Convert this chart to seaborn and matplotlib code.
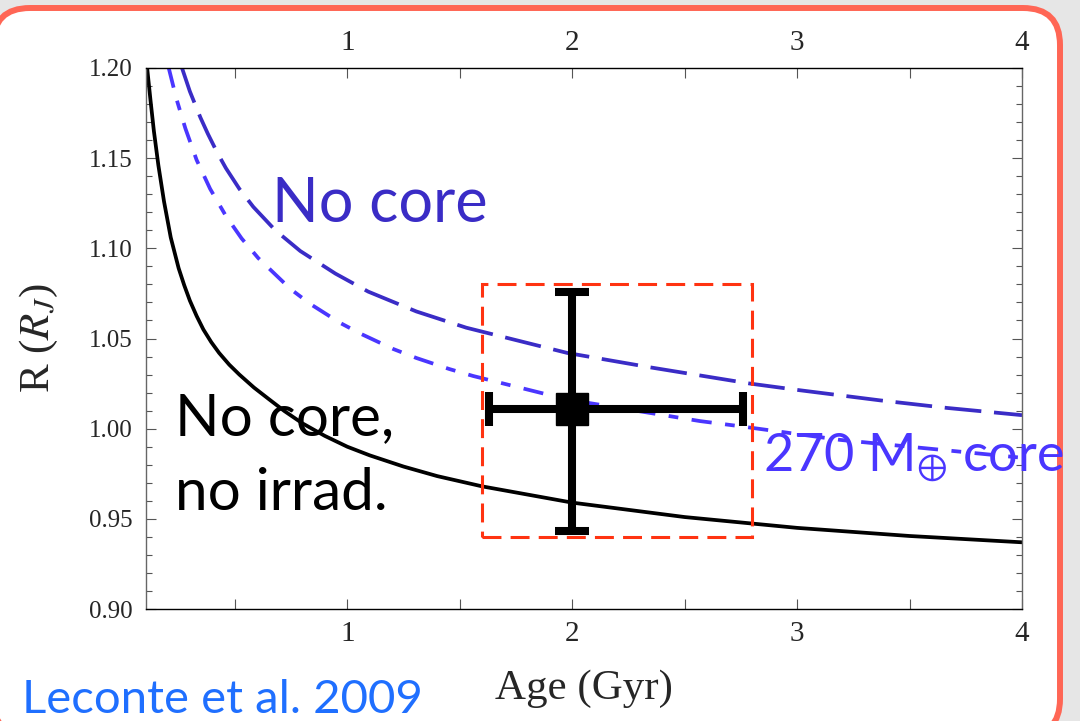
import matplotlib
matplotlib.use("Agg")
import matplotlib.pyplot as plt
import seaborn as sns
from matplotlib.patches import Rectangle, FancyBboxPatch
from matplotlib.ticker import FixedLocator, FixedFormatter, MultipleLocator

# ---------------- data ----------------
# Evolution tracks: age (Gyr) vs. radius (R_J)
age_noirr = [0.110, 0.125, 0.140, 0.160, 0.185, 0.215, 0.250, 0.275, 0.300,
             0.330, 0.360, 0.395, 0.430, 0.475, 0.520, 0.585, 0.650, 0.720,
             0.800, 0.900, 1.000, 1.100, 1.250, 1.400, 1.600, 2.000, 2.500,
             3.000, 3.500, 4.000]
radius_noirr = [1.200, 1.182, 1.165, 1.146, 1.126, 1.106, 1.089, 1.0795, 1.071,
                1.0625, 1.055, 1.048, 1.042, 1.0355, 1.030, 1.0228, 1.0165,
                1.0098, 1.003, 0.996, 0.990, 0.9852, 0.979, 0.9737, 0.968,
                0.959, 0.951, 0.945, 0.9405, 0.937]

age_nocore = [0.265, 0.300, 0.347, 0.380, 0.422, 0.460, 0.520, 0.582, 0.680,
              0.791, 0.947, 1.093, 1.307, 1.529, 1.978, 2.347, 2.791, 3.013,
              3.369, 3.667, 4.000]
radius_nocore = [1.200, 1.187, 1.1725, 1.1635, 1.153, 1.1445, 1.133, 1.123, 1.110,
                 1.0985, 1.086, 1.076, 1.065, 1.056, 1.042, 1.034, 1.025, 1.0213,
                 1.0157, 1.0115, 1.0075]

age_core = [0.206, 0.240, 0.280, 0.330, 0.390, 0.460, 0.530, 0.604, 0.747,
            0.836, 0.969, 1.062, 1.204, 1.307, 1.453, 1.560, 1.978, 2.569,
            2.756, 3.190, 3.990]
radius_core = [1.200, 1.183, 1.1665, 1.149, 1.133, 1.118, 1.1055, 1.0946, 1.0775,
               1.0691, 1.0586, 1.0525, 1.0442, 1.0392, 1.0331, 1.0292, 1.0162,
               1.0042, 1.0012, 0.9938, 0.984]

# Measured planet: age and radius with asymmetric uncertainties
obs_age = [2.0]
obs_age_err_low = [0.37]
obs_age_err_high = [0.76]
obs_radius = [1.011]
obs_radius_err_low = [0.068]
obs_radius_err_high = [0.065]

# Allowed region
box_age = [1.6, 2.8]
box_radius = [0.94, 1.08]

x_ticks = [0.5, 1.0, 1.5, 2.0, 2.5, 3.0, 3.5, 4.0]
x_tick_labels = ["", "1", "", "2", "", "3", "", "4"]
y_ticks = [0.90, 0.95, 1.00, 1.05, 1.10, 1.15, 1.20]
y_tick_labels = ["0.90", "0.95", "1.00", "1.05", "1.10", "1.15", "1.20"]

# ---------------- style ----------------
sns.set_theme(style="ticks")
plt.rcParams.update({
    "font.family": ["Liberation Serif", "DejaVu Serif"],
    "mathtext.fontset": "stix",
    "axes.edgecolor": "black",
    "axes.linewidth": 1.0,
})

C_NOCORE = "#3a2cc6"
C_CORE = "#4a36ff"
C_BOX = "#ff3311"
C_CITE = "#1f6fff"
C_FRAME = "#ff6655"

fig = plt.figure(figsize=(10.8, 7.21), dpi=100, facecolor="#e6e6e6")

# rounded white panel with coral border
panel = FancyBboxPatch((-0.07, -0.15), 10.67, 7.28,
                       boxstyle="round,pad=0,rounding_size=0.37",
                       transform=fig.dpi_scale_trans, facecolor="white",
                       edgecolor=C_FRAME, linewidth=4.3, zorder=-10,
                       clip_on=False)
fig.add_artist(panel)

ax = fig.add_axes([0.1352, 0.1553, 0.8111, 0.7504])
ax.set_facecolor("white")

LW = 2.7
sns.lineplot(x=age_noirr, y=radius_noirr, ax=ax, color="black", lw=LW,
             estimator=None, sort=True)
sns.lineplot(x=age_nocore, y=radius_nocore, ax=ax, color=C_NOCORE, lw=LW,
             estimator=None, sort=True, linestyle=(0, (9.8, 3.4)))
sns.lineplot(x=age_core, y=radius_core, ax=ax, color=C_CORE, lw=LW,
             estimator=None, sort=True,
             linestyle=(0, (5.4, 3.6, 2.6, 3.6)))

rect = Rectangle((box_age[0], box_radius[0]), box_age[1] - box_age[0],
                 box_radius[1] - box_radius[0], fill=False, edgecolor=C_BOX,
                 linewidth=2.2, linestyle=(0, (6.2, 3.0)), zorder=3)
ax.add_patch(rect)

ax.errorbar(obs_age, obs_radius,
            xerr=[obs_age_err_low, obs_age_err_high],
            yerr=[obs_radius_err_low, obs_radius_err_high],
            fmt="s", color="black", ms=23.5, elinewidth=5.8,
            capsize=12.2, capthick=5.8, zorder=5)

ax.set_xlim(0.105, 4.0)
ax.set_ylim(0.90, 1.20)

ax.xaxis.set_major_locator(FixedLocator(x_ticks))
ax.xaxis.set_major_formatter(FixedFormatter(x_tick_labels))
ax.yaxis.set_major_locator(FixedLocator(y_ticks))
ax.yaxis.set_major_formatter(FixedFormatter(y_tick_labels))
ax.yaxis.set_minor_locator(MultipleLocator(0.01))

ax.tick_params(axis="both", which="both", direction="in", color="#555555",
               width=0.8, top=True, right=True)
ax.tick_params(axis="x", which="major", length=7.2, labelsize=21, pad=8.5,
               labeltop=True)
ax.tick_params(axis="y", which="major", length=7.2, labelsize=18, pad=10)
ax.tick_params(axis="y", which="minor", length=4.3)

for side in ("left", "right"):
    ax.spines[side].set_color("#666666")
for side in ("top", "bottom"):
    ax.spines[side].set_color("black")

ax.set_xlabel("Age (Gyr)", fontsize=31)
ax.set_ylabel("R ($R_J$)", fontsize=31)
ax.xaxis.set_label_coords(0.5, -0.112)
ax.yaxis.set_label_coords(-0.098, 0.5)

SANS = ["Lato", "DejaVu Sans"]
ax.text(0.667, 1.1146, "No core", fontsize=44, family=SANS, color=C_NOCORE,
        ha="left", va="baseline", zorder=6)
ax.text(0.236, 0.9965, "No core,", fontsize=42, family=SANS, color="black",
        ha="left", va="baseline", zorder=6)
ax.text(0.236, 0.955, "no irrad.", fontsize=42, family=SANS, color="black",
        ha="left", va="baseline", zorder=6)
ax.text(2.849, 0.976, r"270 M$_{\oplus}$ core", fontsize=37.5, family=SANS,
        color=C_CORE, ha="left", va="baseline", zorder=6, clip_on=False)

fig.text(22 / 1080, 0.0, "Leconte et al. 2009", fontsize=34, family=SANS,
         color=C_CITE, ha="left", va="bottom")

fig.savefig("out.png", dpi=100, facecolor=fig.get_facecolor())
